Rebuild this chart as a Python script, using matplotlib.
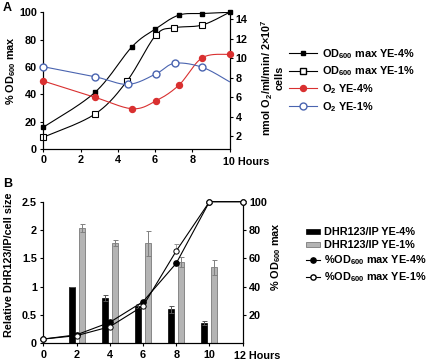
import numpy as np
import matplotlib
matplotlib.use('Agg')
import matplotlib.pyplot as plt
from matplotlib.lines import Line2D
from matplotlib.patches import Patch
import matplotlib.transforms as mtransforms

plt.rcParams['font.family'] = ['Liberation Sans', 'DejaVu Sans']
plt.rcParams['font.weight'] = 'bold'
plt.rcParams['mathtext.fontset'] = 'custom'
plt.rcParams['mathtext.rm'] = 'Liberation Sans:bold'
plt.rcParams['mathtext.default'] = 'rm'

# ---------------- Panel A data ----------------
hoursA_od4 = [0, 2.78, 4.75, 6.0, 7.27, 8.54, 10]
od4 = [15.9, 41.5, 74.6, 87.6, 97.9, 99.1, 100]
hoursA_od1 = [0, 2.78, 4.51, 6.04, 7.04, 8.54, 10]
od1 = [8.6, 25.6, 50, 83.2, 88.7, 90.7, 100]
hoursA_o2_4 = [0, 2.78, 4.78, 6.04, 7.29, 8.54, 10]
o2_4 = [7.64, 5.97, 4.80, 5.59, 7.23, 10.03, 10.38]
hoursA_o2_1 = [0, 2.78, 4.55, 6.04, 7.05, 8.54, 10]
o2_1 = [9.11, 8.08, 7.30, 8.36, 9.46, 9.05, 7.57]
xticksA = [0, 2, 4, 6, 8, 10]
yticksA = [0, 20, 40, 60, 80, 100]
yticksA2 = [2, 4, 6, 8, 10, 12, 14]

# ---------------- Panel B data ----------------
hoursB = [2, 4, 6, 8, 10]
dhr4 = [1.0, 0.80, 0.66, 0.60, 0.36]
err4 = [0.0, 0.06, 0.03, 0.06, 0.03]
dhr1 = [2.04, 1.77, 1.77, 1.44, 1.34]
err1 = [0.07, 0.06, 0.22, 0.09, 0.13]
hoursB_line = [0, 2, 4, 6, 8, 10, 12]
pct4 = [3, 6, 14.8, 29.4, 56.5, 100, 100]
pct1 = [3, 5.4, 11.7, 26.3, 65.2, 100, 100]
pct1_err = [0, 0, 0, 0, 5, 0, 0]
xticksB = [0, 2, 4, 6, 8, 10, 12]
yticksB = [0, 0.5, 1, 1.5, 2, 2.5]
yticksB2 = [20, 40, 60, 80, 100]

RED = '#d93030'
BLUE = '#4a64b0'
GRAY = '#b4b4b4'
FS = 7.8


def smooth(x, y, n=25):
    pts = np.column_stack([x, y]).astype(float)
    P = np.vstack([pts[0], pts, pts[-1]])
    out = []
    t = np.linspace(0, 1, n)[:, None]
    for i in range(len(pts) - 1):
        p0, p1, p2, p3 = P[i], P[i + 1], P[i + 2], P[i + 3]
        b1 = p1 + (p2 - p0) / 6.0
        b2 = p2 - (p3 - p1) / 6.0
        seg = ((1 - t) ** 3) * p1 + 3 * ((1 - t) ** 2) * t * b1 + 3 * (1 - t) * t ** 2 * b2 + t ** 3 * p2
        out.append(seg if i == 0 else seg[1:])
    s = np.vstack(out)
    return s[:, 0], s[:, 1]


fig = plt.figure(figsize=(4.3, 3.62), dpi=100)
W, H = 430.0, 362.0

def axrect(l, t, r, b):
    return [l / W, 1 - b / H, (r - l) / W, (b - t) / H]

# ================= Panel A =================
axA = fig.add_axes(axrect(43.3, 12.3, 229.5, 149))
axA2 = axA.twinx()
axA.set_xlim(0, 10)
axA.set_ylim(0, 100)
axA2.set_ylim(0.67, 14.69)

lw = 0.8
MS_SQ_F, MS_SQ_O, MS_C_R, MS_C_B = 3.4, 4.0, 4.3, 5.0
sx, sy = smooth(hoursA_od4, od4)
axA.plot(sx, sy, color='black', lw=lw, zorder=3)
axA.plot(hoursA_od4, od4, ls='none', marker='s', ms=MS_SQ_F, mfc='black', mec='black', zorder=5, clip_on=False)
sx, sy = smooth(hoursA_od1, od1)
axA.plot(sx, sy, color='black', lw=lw, zorder=3)
axA.plot(hoursA_od1[:-1], od1[:-1], ls='none', marker='s', ms=MS_SQ_O, mfc='white', mec='black', mew=0.8, zorder=4, clip_on=False)

sx, sy = smooth(hoursA_o2_4, o2_4)
axA2.plot(sx, sy, color=RED, lw=lw, zorder=3)
axA2.plot(hoursA_o2_4, o2_4, ls='none', marker='o', ms=MS_C_R, mfc=RED, mec=RED, zorder=4, clip_on=False)
sx, sy = smooth(hoursA_o2_1, o2_1)
axA2.plot(sx, sy, color=BLUE, lw=lw, zorder=3)
axA2.plot(hoursA_o2_1[:-1], o2_1[:-1], ls='none', marker='o', ms=MS_C_B, mfc='white', mec=BLUE, mew=1.0, zorder=4, clip_on=False)

for a in (axA, axA2):
    a.spines['top'].set_visible(False)
    for s in a.spines.values():
        s.set_linewidth(0.8)
axA.set_xticks(xticksA)
axA.set_xticklabels([str(v) for v in xticksA[:-1]] + [''])
axA.set_yticks(yticksA)
axA2.set_yticks(yticksA2)
axA.tick_params(labelsize=FS, length=2.5, width=0.8, pad=2)
axA2.tick_params(labelsize=FS, length=2.5, width=0.8, pad=2)
axA.text(9.67, -0.055, '10 Hours', transform=mtransforms.blended_transform_factory(axA.transData, axA.transAxes),
         ha='left', va='top', fontsize=FS, fontweight='bold')
fig.text(3 / W, 1 - 8 / H, 'A', fontsize=9, fontweight='bold', ha='left', va='center')
fig.text(11 / W, 1 - 71 / H, '% OD$_{600}$ max', rotation=90, ha='center', va='center', fontsize=FS)
fig.text(272 / W, 1 - 78 / H, 'nmol O$_2$/ml/min/ 2\u00d710$^7$\ncells', rotation=90, ha='center', va='center',
         fontsize=FS, linespacing=1.0)

handlesA = [
    Line2D([], [], color='black', lw=lw, marker='s', ms=MS_SQ_F, mfc='black', mec='black'),
    Line2D([], [], color='black', lw=lw, marker='s', ms=MS_SQ_O, mfc='white', mec='black'),
    Line2D([], [], color=RED, lw=lw, marker='o', ms=MS_C_R, mfc=RED, mec=RED),
    Line2D([], [], color=BLUE, lw=lw, marker='o', ms=MS_C_B, mfc='white', mec=BLUE),
]
labelsA = ['OD$_{600}$ max YE-4%', 'OD$_{600}$ max YE-1%', 'O$_2$ YE-4%', 'O$_2$ YE-1%']
axA2.legend(handlesA, labelsA, loc='upper left', bbox_to_anchor=(289 / W, 1 - 47 / H),
            bbox_transform=fig.transFigure, frameon=False, fontsize=FS, handlelength=2.6,
            handletextpad=0.4, labelspacing=0.35, borderpad=0, borderaxespad=0)

# ================= Panel B =================
axB = fig.add_axes(axrect(43.3, 201.7, 242.7, 343.3))
axB2 = axB.twinx()
axB.set_xlim(0, 12)
axB.set_ylim(0, 2.5)
axB2.set_ylim(0, 100)

xb = np.array(hoursB, dtype=float)
bw = 0.36
axB.bar(xb - 0.3, dhr4, width=bw, color='black', edgecolor='black', lw=0.5,
        yerr=err4, error_kw=dict(ecolor='#555555', elinewidth=0.7, capsize=1.8, capthick=0.7), zorder=2)
axB.bar(xb + 0.3, dhr1, width=bw, color=GRAY, edgecolor='#7a7a7a', lw=0.6,
        yerr=err1, error_kw=dict(ecolor='#808080', elinewidth=0.7, capsize=1.8, capthick=0.7), zorder=2)

MS_B = 3.8
axB2.plot(hoursB_line, pct4, color='black', lw=0.8, marker='o', ms=MS_B, mfc='black', mec='black', zorder=3, clip_on=False)
axB2.errorbar(hoursB_line, pct1, yerr=[np.zeros(len(pct1)), pct1_err], color='black', lw=0.8, marker='o', ms=MS_B,
              mfc='white', mec='black', mew=0.7, zorder=4, clip_on=False, ecolor='#909090', elinewidth=0.6,
              capsize=1.8, capthick=0.6)

for a in (axB, axB2):
    a.spines['top'].set_visible(False)
    for s in a.spines.values():
        s.set_linewidth(0.8)
axB.set_xticks(xticksB)
axB.set_xticklabels([str(v) for v in xticksB[:-1]] + [''])
axB.set_yticks(yticksB)
axB.set_yticklabels(['0', '0.5', '1', '1.5', '2', '2.5'])
axB2.set_yticks(yticksB2)
axB.tick_params(labelsize=FS, length=2.5, width=0.8, pad=2)
axB2.tick_params(labelsize=FS, length=2.5, width=0.8, pad=2)
axB.text(11.45, -0.055, '12 Hours', transform=mtransforms.blended_transform_factory(axB.transData, axB.transAxes),
         ha='left', va='top', fontsize=FS, fontweight='bold')
fig.text(3 / W, 1 - 184 / H, 'B', fontsize=9, fontweight='bold', ha='left', va='center')
fig.text(9 / W, 1 - 265 / H, 'Relative DHR123/IP/cell size', rotation=90, ha='center', va='center', fontsize=FS)
fig.text(276 / W, 1 - 257 / H, '% OD$_{600}$ max', rotation=90, ha='center', va='center', fontsize=FS)

handlesB = [
    Patch(facecolor='black', edgecolor='black', lw=0.5),
    Patch(facecolor=GRAY, edgecolor='#7a7a7a', lw=0.6),
    Line2D([], [], color='black', lw=0.8, marker='o', ms=MS_B, mfc='black', mec='black'),
    Line2D([], [], color='black', lw=0.8, marker='o', ms=MS_B, mfc='white', mec='black'),
]
labelsB = ['DHR123/IP YE-4%', 'DHR123/IP YE-1%', '%OD$_{600}$ max YE-4%', '%OD$_{600}$ max YE-1%']
axB2.legend(handlesB, labelsB, loc='upper left', bbox_to_anchor=(306 / W, 1 - 227 / H),
            bbox_transform=fig.transFigure, frameon=False, fontsize=FS, handlelength=1.3, handleheight=0.35,
            handletextpad=0.4, labelspacing=0.3, borderpad=0, borderaxespad=0)

fig.savefig('out.png', dpi=100)
